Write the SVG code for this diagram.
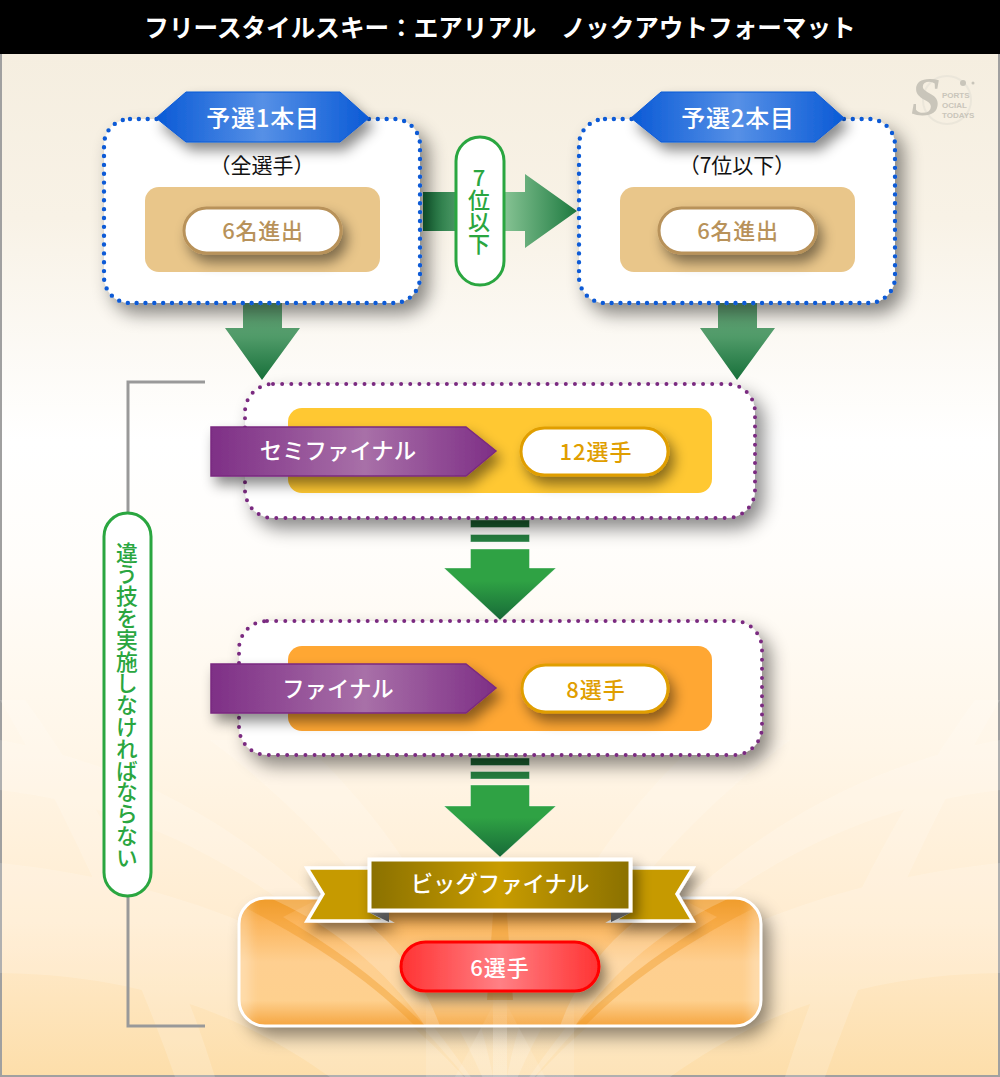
<svg xmlns="http://www.w3.org/2000/svg" width="1000" height="1077" viewBox="0 0 1000 1077">
<style>
text{font-family:"Noto Sans CJK JP","Noto Sans",sans-serif;text-anchor:middle;dominant-baseline:central}
.w{fill:#fff;font-weight:500}
.v{writing-mode:vertical-rl;text-orientation:upright;fill:#2aa640;font-weight:500}
.blue{fill:#fff;stroke:#0a5ad6;stroke-width:4.4;stroke-linecap:round;stroke-dasharray:0 8.85}
.pur{fill:#fff;stroke:#7a2a80;stroke-width:4;stroke-linecap:round;stroke-dasharray:0 9.15}
.gp{fill:#fff;stroke:#2aa640;stroke-width:3}
.lg{font-family:"Liberation Sans",sans-serif;text-anchor:start;font-size:8px;font-weight:700}
</style>
<defs>
<filter id="sh" x="-20%" y="-25%" width="145%" height="165%"><feDropShadow dx="8" dy="10" stdDeviation="9" flood-color="#000" flood-opacity=".46"/></filter>
<filter id="sh2" x="-20%" y="-40%" width="145%" height="210%"><feDropShadow dx="5" dy="8" stdDeviation="6.500" flood-color="#000" flood-opacity=".46"/></filter>
<filter id="blur"><feGaussianBlur stdDeviation="6"/></filter>
<linearGradient id="bg" x1="0" y1="0" x2="0" y2="1"><stop offset="0" stop-color="#f5eee0"/><stop offset=".16" stop-color="#f8f2e6"/><stop offset=".38" stop-color="#fff"/><stop offset=".5" stop-color="#fffdfa"/><stop offset=".68" stop-color="#fff6e8"/><stop offset=".85" stop-color="#ffecd0"/><stop offset="1" stop-color="#fddeaa"/></linearGradient>
<linearGradient id="tab"><stop offset="0" stop-color="#0a5ad6"/><stop offset=".5" stop-color="#5690e6"/><stop offset="1" stop-color="#0a5ad6"/></linearGradient>
<linearGradient id="ha"><stop offset="0" stop-color="#17703a"/><stop offset=".5" stop-color="#8cc798"/><stop offset="1" stop-color="#1d7a40"/></linearGradient>
<linearGradient id="da" x1="0" y1="0" x2="0" y2="1"><stop offset="0" stop-color="#6aac7c"/><stop offset=".45" stop-color="#4f9a68"/><stop offset="1" stop-color="#17703a"/></linearGradient>
<linearGradient id="ga" x1="0" y1="0" x2="0" y2="1"><stop offset="0" stop-color="#2fa244"/><stop offset=".45" stop-color="#2fa244"/><stop offset="1" stop-color="#176a38"/></linearGradient>
<linearGradient id="ban"><stop offset="0" stop-color="#7e2f86"/><stop offset=".54" stop-color="#a870a8"/><stop offset="1" stop-color="#7e2f86"/></linearGradient>
<linearGradient id="gold"><stop offset="0" stop-color="#8a7000"/><stop offset=".5" stop-color="#c89c00"/><stop offset="1" stop-color="#8a7000"/></linearGradient>
<linearGradient id="big" x1="0" y1="0" x2="0" y2="1"><stop offset="0" stop-color="#efa035"/><stop offset=".18" stop-color="#fbb45a"/><stop offset=".5" stop-color="#fecf90"/><stop offset=".8" stop-color="#fed08e"/><stop offset="1" stop-color="#f5a540"/></linearGradient>
<linearGradient id="red"><stop offset="0" stop-color="#ff3333"/><stop offset=".5" stop-color="#ff8085"/><stop offset="1" stop-color="#ff3333"/></linearGradient>
<linearGradient id="fold" x1="0" y1="0" x2="0" y2="1"><stop offset="0" stop-color="#9a9a9a"/><stop offset="1" stop-color="#5e5e5e"/></linearGradient>
<linearGradient id="fade" x1="0" y1="0" x2="0" y2="1"><stop offset="0" stop-color="#fff" stop-opacity="0"/><stop offset=".5" stop-color="#fff" stop-opacity=".3"/><stop offset="1" stop-color="#fff" stop-opacity=".35"/></linearGradient>
<clipPath id="bc"><rect x="239" y="898" width="522" height="128" rx="26"/></clipPath>
<g id="rays">
<path d="M500 1120C400 990 250 890 0 863V973C150 975 250 1020 330 1077H420Z"/>
<path d="M0 700C60 800 130 950 175 1077H215C170 930 90 790 25 700Z"/>
<path d="M500 1120C440 960 330 830 210 740H300C400 830 480 960 500 1120Z"/>
<path d="M0 740C160 770 330 860 500 1120C330 900 170 810 0 790Z"/>
</g>
</defs>

<g id="background">
<rect x="0" y="0" width="1000" height="1077" fill="#a0a0a0"/>
<rect x="2" y="54" width="996" height="1021" fill="url(#bg)"/>
<g fill="#fff" opacity=".17"><use href="#rays"/><use href="#rays" transform="translate(1000 0) scale(-1 1)"/></g>
<rect x="0" y="0" width="1000" height="54" fill="#000"/>
<text x="500" y="26" font-size="24.600" font-weight="700" fill="#fff">フリースタイルスキー：エアリアル　ノックアウトフォーマット</text>
</g>

<g id="logo" fill="#c9c5ba">
<circle cx="947" cy="100" r="24" fill="none" stroke="#ebe6da" stroke-width="2"/>
<circle cx="963" cy="83" r="3"/><circle cx="973" cy="83" r="1.5"/>
<text x="926" y="97" font-size="54" font-weight="700" font-style="italic" style="font-family:'Liberation Serif',serif">S</text>
<text class="lg" x="942" y="95">PORTS</text>
<text class="lg" x="942" y="105">OCIAL</text>
<text class="lg" x="942" y="115">TODAYS</text>
</g>

<g id="connectors">
<path id="bracket" d="M205 382H128V1026H205" fill="none" stroke="#999" stroke-width="3"/>
<path d="M423 192H525V174L577 211L525 248V231H423Z" fill="url(#ha)"/>
<path d="M243 303H282V328H300L262 380L225 328H243Z" fill="url(#da)"/>
<path d="M718 303H757V328H775L737 380L700 328H718Z" fill="url(#da)"/>
<g stroke="#fff" stroke-opacity=".4">
<rect x="470.500" y="520" width="59" height="7.500" fill="#1a5e2e"/>
<rect x="470.500" y="534.500" width="59" height="7.500" fill="#258040"/>
<path d="M470.500 549H529.500V568H556L500 620L444 568H470.500Z" fill="url(#ga)"/>
<rect x="470.500" y="758" width="59" height="7.500" fill="#1a5e2e"/>
<rect x="470.500" y="771.500" width="59" height="7.500" fill="#258040"/>
<path d="M470.500 785H529.500V806H556L500 857L444 806H470.500Z" fill="url(#ga)"/>
</g>
</g>

<g id="q1">
<rect class="blue" x="104" y="119" width="316" height="184" rx="26" filter="url(#sh)"/>
<path d="M156 118L186 92H340L369 118L340 142H186Z" fill="url(#tab)" stroke="#0a5ad6" filter="url(#sh2)"/>
<text class="w" x="263" y="116" font-size="24" letter-spacing=".8">予選1本目</text>
<text x="262" y="164" font-size="21" fill="#111">（全選手）</text>
<rect x="145" y="187" width="235" height="85" rx="14" fill="#e9c68a"/>
<rect x="184" y="208" width="157" height="45" rx="22.500" fill="#fff" stroke="#b8925a" stroke-width="3" filter="url(#sh2)"/>
<text x="263" y="229" font-size="22" letter-spacing=".8" font-weight="500" fill="#b8925a">6名進出</text>
</g>

<g id="q2">
<rect class="blue" x="579" y="119" width="316" height="184" rx="26" filter="url(#sh)"/>
<path d="M631 118L661 92H815L844 118L815 142H661Z" fill="url(#tab)" stroke="#0a5ad6" filter="url(#sh2)"/>
<text class="w" x="738" y="116" font-size="24" letter-spacing=".8">予選2本目</text>
<text x="737" y="164" font-size="21" fill="#111">（7位以下）</text>
<rect x="620" y="187" width="235" height="85" rx="14" fill="#e9c68a"/>
<rect x="659" y="208" width="157" height="45" rx="22.500" fill="#fff" stroke="#b8925a" stroke-width="3" filter="url(#sh2)"/>
<text x="738" y="229" font-size="22" letter-spacing=".8" font-weight="500" fill="#b8925a">6名進出</text>
</g>

<g id="rank7">
<rect class="gp" x="456" y="137" width="48" height="148" rx="24"/>
<text class="v" x="479" y="211" font-size="22">7位以下</text>
</g>

<g id="semi">
<rect class="pur" x="245" y="384" width="510" height="134" rx="28" filter="url(#sh)"/>
<rect x="288" y="408" width="424" height="85" rx="14" fill="#ffc832"/>
<path d="M211 427H466L496 451L466 476H211Z" fill="url(#ban)" stroke="#7a2a80" stroke-width="1.500" filter="url(#sh2)"/>
<text class="w" x="338" y="449" font-size="22.400">セミファイナル</text>
<rect x="521" y="428" width="147" height="47" rx="23.500" fill="#fff" stroke="#e09e00" stroke-width="3" filter="url(#sh2)"/>
<text x="596" y="450" font-size="22" letter-spacing="1" font-weight="500" fill="#e09e00">12選手</text>
</g>

<g id="final">
<rect class="pur" x="239" y="621" width="523" height="134" rx="28" filter="url(#sh)"/>
<rect x="288" y="646" width="424" height="85" rx="14" fill="#ffa733"/>
<path d="M211 664H466L496 688L466 713H211Z" fill="url(#ban)" stroke="#7a2a80" stroke-width="1.500" filter="url(#sh2)"/>
<text class="w" x="338" y="687" font-size="22.400">ファイナル</text>
<rect x="522" y="665" width="146" height="47" rx="23.500" fill="#fff" stroke="#e09e00" stroke-width="3" filter="url(#sh2)"/>
<text x="596" y="688" font-size="22" letter-spacing="1" font-weight="500" fill="#e09e00">8選手</text>
</g>

<g id="bigfinal">
<rect x="239" y="898" width="522" height="128" rx="26" fill="url(#big)" filter="url(#sh)"/>
<g clip-path="url(#bc)">
<g fill="#f0951e" opacity=".38">
<path d="M425 1026C380 980 330 945 283 917L320 898H250L240 905C310 940 370 980 415 1026Z"/>
<path d="M575 1026C620 980 670 945 717 917L680 898H750L760 905C690 940 630 980 585 1026Z"/>
<path d="M487 1000L494 900H506L513 1000Z"/>
</g>
<g fill="#fff" opacity=".2">
<path d="M425 1026C380 960 320 920 270 898H330C380 925 420 970 440 1026Z"/>
<path d="M575 1026C620 960 680 920 730 898H670C620 925 580 970 560 1026Z"/>
</g>
<rect x="242" y="875" width="516" height="174" rx="24" fill="none" stroke="#fff" stroke-width="14" opacity=".3" filter="url(#blur)"/>
</g>
<rect x="426" y="990" width="148" height="87" fill="url(#fade)" opacity=".35"/>
<rect x="493" y="990" width="14" height="87" fill="url(#fade)" opacity=".6"/>
<path d="M500 992L455 1077H545Z" fill="url(#fade)" opacity=".35"/>
<rect x="239" y="898" width="522" height="128" rx="26" fill="none" stroke="#fff" stroke-width="3"/>
<rect x="401" y="942" width="198" height="49" rx="24.500" fill="url(#red)" stroke="#f00" stroke-width="3" filter="url(#sh2)"/>
<text class="w" x="500" y="966" font-size="22" letter-spacing="1">6選手</text>
<g filter="url(#sh2)">
<path d="M307 868H372V912L388 921H307L323 894Z" fill="#c69a00" stroke="#fff" stroke-width="3.500"/>
<path d="M693 868H628V912L612 921H693L677 894Z" fill="#c69a00" stroke="#fff" stroke-width="3.500"/>
</g>
<path d="M368 912H389V922Z" fill="url(#fold)"/>
<path d="M632 912H611V922Z" fill="url(#fold)"/>
<rect x="369.500" y="859.500" width="261" height="51" fill="url(#gold)" stroke="#fff" stroke-width="4" filter="url(#sh2)"/>
<text class="w" x="500" y="882" font-size="22.400">ビッグファイナル</text>
</g>

<g id="note">
<rect class="gp" x="104" y="513" width="47" height="383" rx="23.500"/>
<text class="v" x="127" y="705" font-size="21.800">違う技を実施しなければならない</text>
</g>
</svg>
